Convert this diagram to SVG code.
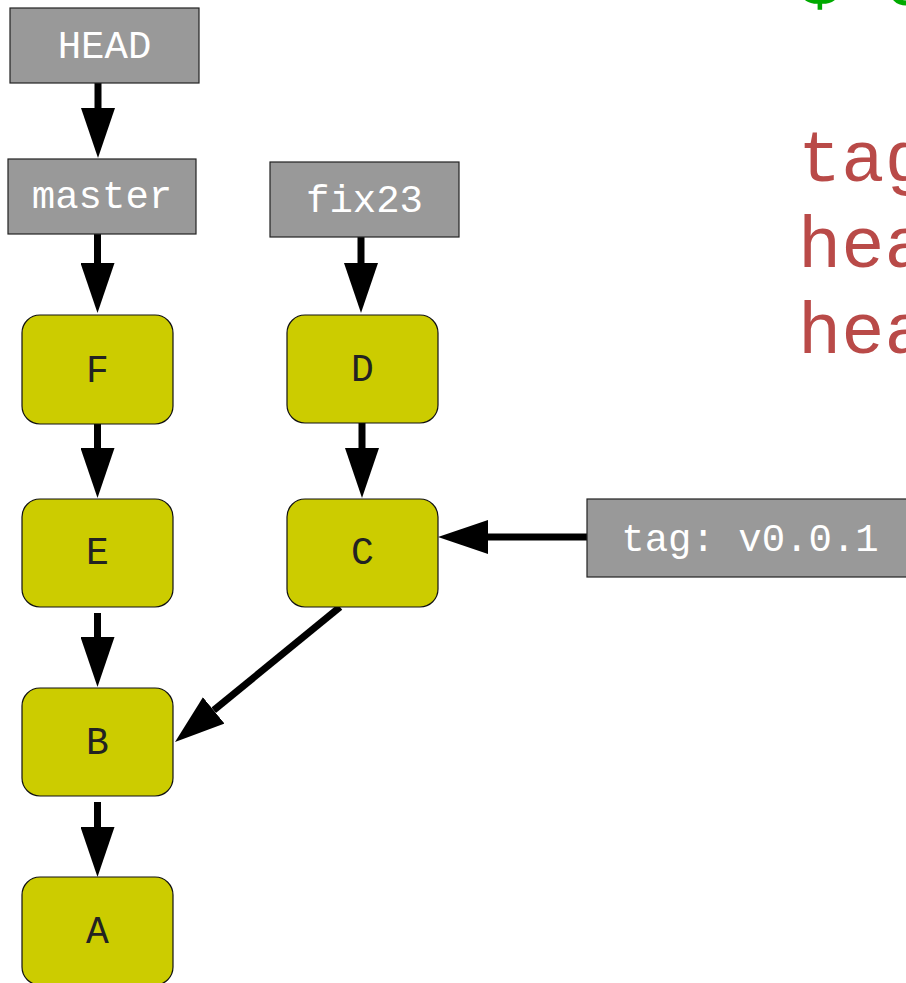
<svg xmlns="http://www.w3.org/2000/svg" width="906" height="983" viewBox="0 0 906 983">
<style>
.ref rect{fill:#999999;stroke:#222222;stroke-width:1.2}
.ref text{fill:#ffffff;font-family:"Liberation Mono","Courier New",monospace;font-size:39px;text-anchor:middle}
.commit rect{fill:#cccc00;stroke:#111111;stroke-width:1.2}
.commit text{fill:#222222;font-family:"Liberation Mono","Courier New",monospace;font-size:38px;text-anchor:middle}
.edge{stroke:#000000;stroke-width:7;fill:none;stroke-linecap:butt}
.out{font-family:"Liberation Mono","Courier New",monospace;font-size:72px}
</style>
<defs>
<marker id="ah" viewBox="0 0 50 34" markerWidth="50" markerHeight="34" refX="0" refY="17" orient="auto" markerUnits="userSpaceOnUse">
<path d="M0,0 L50,17 L0,34 Z" fill="#000000"/>
</marker>
</defs>
<rect width="906" height="983" fill="#ffffff"/>

<g id="output">
<text class="out" x="798" y="5" fill="#00aa00">$ c</text>
<text class="out" x="798" y="181" fill="#b94a48">tag</text>
<text class="out" x="798" y="267" fill="#b94a48">hea</text>
<text class="out" x="798" y="353" fill="#b94a48">hea</text>
</g>

<g id="connectors">
<path class="edge" d="M98,83 L98,108" marker-end="url(#ah)"/>
<path class="edge" d="M97.5,234 L97.5,263" marker-end="url(#ah)"/>
<path class="edge" d="M361,237 L361,263" marker-end="url(#ah)"/>
<path class="edge" d="M97.5,424 L97.5,448" marker-end="url(#ah)"/>
<path class="edge" d="M362,423 L362,448" marker-end="url(#ah)"/>
<path class="edge" d="M97.5,613 L97.5,637" marker-end="url(#ah)"/>
<path class="edge" d="M97.5,802 L97.5,827" marker-end="url(#ah)"/>
<path class="edge" d="M588,537 L488,537" marker-end="url(#ah)"/>
<path class="edge" d="M340,607 L213.7,710.3" marker-end="url(#ah)"/>
</g>

<g id="HEAD" class="ref"><rect x="10" y="8" width="189" height="75"/><text x="104.5" y="58">HEAD</text></g>
<g id="master" class="ref"><rect x="8" y="159" width="188" height="75"/><text x="102" y="208">master</text></g>
<g id="fix23" class="ref"><rect x="270" y="162" width="189" height="75"/><text x="364.5" y="212">fix23</text></g>
<g id="tag" class="ref"><rect x="587" y="499" width="330" height="78"/><text x="750" y="551">tag: v0.0.1</text></g>

<g id="F" class="commit"><rect x="22" y="315" width="151" height="109" rx="18"/><text x="97.5" y="382">F</text></g>
<g id="D" class="commit"><rect x="287" y="315" width="151" height="108" rx="18"/><text x="362.5" y="381">D</text></g>
<g id="E" class="commit"><rect x="22" y="499" width="151" height="108" rx="18"/><text x="97.5" y="564">E</text></g>
<g id="C" class="commit"><rect x="287" y="499" width="151" height="108" rx="18"/><text x="362.5" y="564">C</text></g>
<g id="B" class="commit"><rect x="22" y="688" width="151" height="108" rx="18"/><text x="97.5" y="754">B</text></g>
<g id="A" class="commit"><rect x="22" y="877" width="151" height="108" rx="18"/><text x="97.5" y="943">A</text></g>
</svg>
